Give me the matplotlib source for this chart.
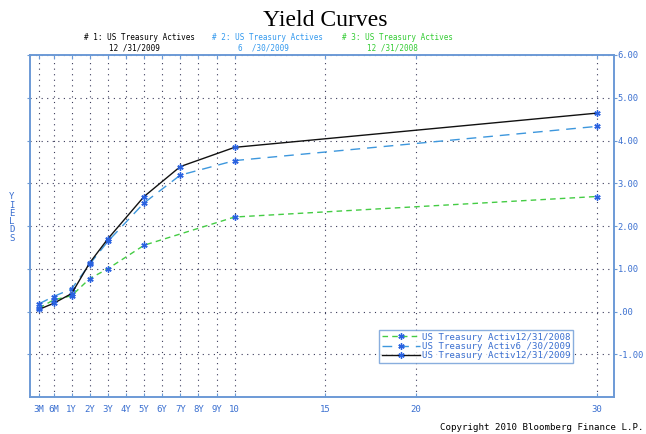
import numpy as np
import matplotlib
matplotlib.use("Agg")
import matplotlib.pyplot as plt

# ---- data ----
tenors_2009 = [0.25, 0.5, 1, 2, 3, 5, 7, 10, 30]
yields_1231_2009 = [0.05, 0.19, 0.42, 1.14, 1.70, 2.69, 3.39, 3.84, 4.64]
yields_0630_2009 = [0.18, 0.35, 0.53, 1.11, 1.64, 2.54, 3.19, 3.53, 4.33]
tenors_2008 = [0.25, 0.5, 1, 2, 3, 5, 10, 30]
yields_1231_2008 = [0.08, 0.27, 0.37, 0.77, 1.00, 1.55, 2.21, 2.69]

tick_tenors = [0.25, 0.5, 1, 2, 3, 4, 5, 6, 7, 8, 9, 10, 15, 20, 30]
tick_labels = ["3M", "6M", "1Y", "2Y", "3Y", "4Y", "5Y", "6Y", "7Y", "8Y", "9Y", "10", "15", "20", "30"]
y_ticks = [6, 5, 4, 3, 2, 1, 0, -1]
y_tick_labels = ["6.00", "5.00", "4.00", "3.00", "2.00", "1.00", ".00", "-1.00"]

# piecewise scale (short end stretched)
_bp_t = np.array([0.0, 0.25, 0.5, 1.0, 40.0])
_bp_p = np.array([-1.6, -0.8, 0.0, 1.0, 40.0])
def fwd(t):
    return np.interp(t, _bp_t, _bp_p)
def inv(p):
    return np.interp(p, _bp_p, _bp_t)

plt.rcParams["axes.unicode_minus"] = False
MONO = "DejaVu Sans Mono"
BLUE_TXT = "#3a6fd0"
SPINE = "#6c9ad6"
C_BLACK = "#111111"
C_BLUE = "#3d97dd"
C_GREEN = "#44cc44"
MK = "#2a62e0"

fig = plt.figure(figsize=(6.46, 4.34), dpi=100)
ax = fig.add_axes([30/646, 1-397/434, (614-30)/646, (397-55)/434])
ax.set_xscale("function", functions=(fwd, inv))
ax.set_xlim(inv(-1.3), inv(30.95))
ax.set_ylim(-2, 6)

mk = (6, 2, 0)
l3, = ax.plot(tenors_2008, yields_1231_2008, color=C_GREEN, lw=1.0, ls=(0, (4, 3)),
              marker=mk, ms=4.5, mec=MK, mfc=MK, mew=1.0)
l2, = ax.plot(tenors_2009, yields_0630_2009, color=C_BLUE, lw=1.0, ls=(0, (7, 5)),
              marker=mk, ms=4.5, mec=MK, mfc=MK, mew=1.0)
l1, = ax.plot(tenors_2009, yields_1231_2009, color=C_BLACK, lw=1.0, ls="-",
              marker=mk, ms=4.5, mec=MK, mfc=MK, mew=1.0)

ax.set_xticks(tick_tenors)
ax.set_xticklabels(tick_labels)
ax.set_yticks(y_ticks)
ax.set_yticklabels(y_tick_labels)
ax.minorticks_off()
ax.yaxis.tick_right()
ax.tick_params(axis="x", which="both", direction="in", length=3, color=SPINE,
               labelcolor=BLUE_TXT, labelsize=6.5, pad=6, top=True, bottom=True)
ax.tick_params(axis="y", which="both", direction="out", length=2, color=SPINE,
               labelcolor=BLUE_TXT, labelsize=6.3, pad=0.5, left=True, right=True)
for lab in ax.get_xticklabels() + ax.get_yticklabels():
    lab.set_family(MONO)

ax.grid(True, color="#3a3a5a", lw=0.8, ls=(0, (1, 4)))
for s in ax.spines.values():
    s.set_color(SPINE)
    s.set_linewidth(1.4)

leg = ax.legend([l3, l2, l1],
                ["US Treasury Activ12/31/2008", "US Treasury Activ6 /30/2009", "US Treasury Activ12/31/2009"],
                loc="lower right", bbox_to_anchor=(0.93, 0.1), frameon=True, fancybox=False,
                prop={"family": MONO, "size": 6.6}, handlelength=4.2, handletextpad=0.2,
                labelspacing=0.02, borderpad=0.3, borderaxespad=0.0, labelcolor=BLUE_TXT)
leg.get_frame().set_edgecolor(SPINE)
leg.get_frame().set_linewidth(1.0)

ax.text(-0.031, 0.525, "Y\nI\nE\nL\nD\nS", transform=ax.transAxes, ha="center", va="center",
        family=MONO, fontsize=6.5, color=BLUE_TXT, linespacing=0.9)

fig.text(0.503, 0.952, "Yield Curves", ha="center", va="center", family="Liberation Serif",
         fontsize=17, color="black")
hdr = [("# 1: US Treasury Actives", "12 /31/2009", "black", 139),
       ("# 2: US Treasury Actives", "6  /30/2009", "#3399ee", 268),
       ("# 3: US Treasury Actives", "12 /31/2008", "#33cc33", 397)]
for t1, t2, c, xc in hdr:
    fig.text(xc/646, 1-38/434, t1, ha="center", va="center", family=MONO, fontsize=5.5, color=c)
    fig.text((xc-5)/646, 1-48/434, t2, ha="center", va="center", family=MONO, fontsize=5.5, color=c)

fig.text(644/646, 1-428/434, "Copyright 2010 Bloomberg Finance L.P.", ha="right", va="center",
         family=MONO, fontsize=6.6, color="black")

fig.savefig("out.png", dpi=100)
